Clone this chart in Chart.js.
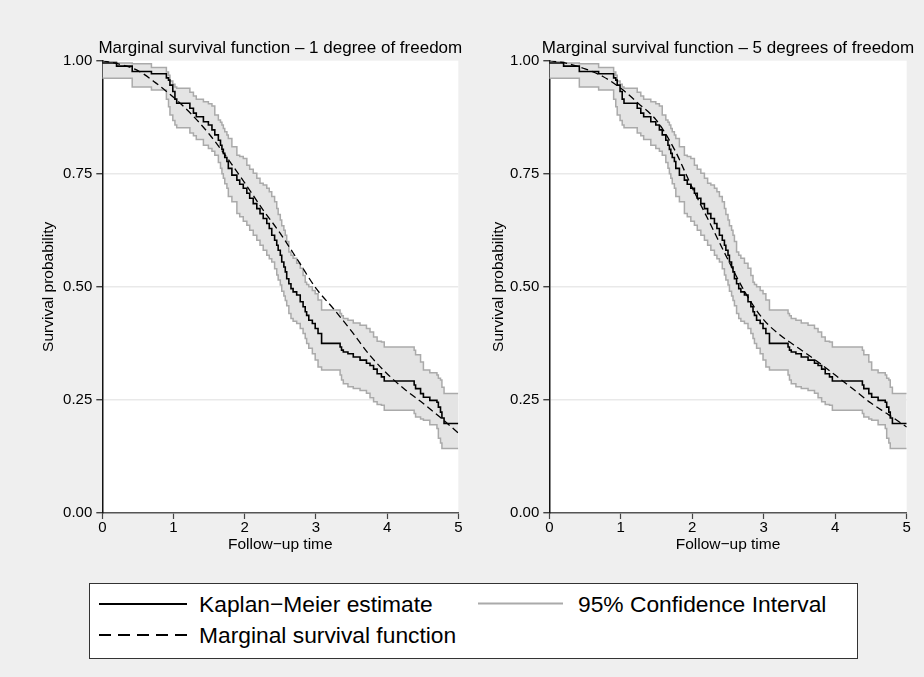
<!DOCTYPE html>
<html>
<head>
<meta charset="utf-8">
<script src="https://cdn.jsdelivr.net/npm/chart.js@4.4.0/dist/chart.umd.min.js"></script>
<style>
  html, body { margin: 0; padding: 0; }
  body { width: 924px; height: 677px; background: #efefef; position: relative; overflow: hidden;
         font-family: "Liberation Sans", Arial, sans-serif; }
  canvas { position: absolute; top: 0; }
  #left { left: 0; }
  #right { left: 470px; }
  .legend { position: absolute; left: 89px; top: 583px; width: 767px; height: 74px;
            background: #fff; border: 1px solid #333; }
  .legend svg { position: absolute; left: 0; top: 0; }
  .legend span { position: absolute; font-size: 22.8px; line-height: 22.8px; color: #000; white-space: nowrap; }
</style>
</head>
<body>
<canvas id="left" width="470" height="556"></canvas>
<canvas id="right" width="454" height="556"></canvas>

<div class="legend">
  <svg width="767" height="74">
    <line x1="9" y1="20" x2="97" y2="20" stroke="#000" stroke-width="2"/>
    <line x1="388" y1="19.5" x2="473" y2="19.5" stroke="#aaa" stroke-width="2"/>
    <line x1="9" y1="51" x2="97" y2="51" stroke="#000" stroke-width="2" stroke-dasharray="12,7"/>
  </svg>
  <span style="left:109px; top:9px">Kaplan−Meier estimate</span>
  <span style="left:488px; top:9px">95% Confidence Interval</span>
  <span style="left:109px; top:40px">Marginal survival function</span>
</div>

<script>
// Kaplan-Meier estimate with 95% CI (same data in both panels)
const eventTime = [0, 0.20, 0.42, 0.69, 0.90, 0.93, 0.95, 0.99, 1.02, 1.045, 1.23, 1.28, 1.32, 1.42, 1.49, 1.54, 1.58, 1.63, 1.66, 1.68,
  1.70, 1.72, 1.75, 1.77, 1.82, 1.89, 1.93, 1.98, 2.03, 2.07, 2.12, 2.17, 2.215, 2.26, 2.31, 2.345, 2.38, 2.42, 2.45, 2.47,
  2.50, 2.52, 2.55, 2.57, 2.59, 2.62, 2.65, 2.68, 2.73, 2.78, 2.82, 2.85, 2.87, 2.90, 2.95, 2.99, 3.03, 3.08, 3.34, 3.36,
  3.385, 3.45, 3.525, 3.62, 3.71, 3.76, 3.81, 3.86, 3.92, 3.96, 4.38, 4.40, 4.47, 4.51, 4.60, 4.70, 4.72, 4.75, 4.77, 4.80,
  4.84, 5.00];
const kmSurv = [1.000, 0.995, 0.988, 0.976, 0.971, 0.962, 0.957, 0.946, 0.932, 0.915, 0.906, 0.895, 0.884, 0.876, 0.865, 0.858, 0.847, 0.836, 0.824, 0.813,
  0.804, 0.795, 0.786, 0.777, 0.762, 0.747, 0.736, 0.727, 0.718, 0.707, 0.696, 0.684, 0.673, 0.662, 0.651, 0.640, 0.629, 0.614, 0.603, 0.592,
  0.581, 0.570, 0.555, 0.544, 0.533, 0.518, 0.507, 0.496, 0.489, 0.482, 0.467, 0.456, 0.445, 0.437, 0.426, 0.419, 0.408, 0.397, 0.375, 0.367,
  0.360, 0.356, 0.352, 0.345, 0.338, 0.331, 0.326, 0.318, 0.308, 0.301, 0.292, 0.283, 0.275, 0.264, 0.256, 0.249, 0.245, 0.234, 0.223, 0.210,
  0.198, 0.198];
const ciUpper = [1.000, 0.998, 0.995, 0.993, 0.985, 0.975, 0.968, 0.955, 0.948, 0.942, 0.939, 0.930, 0.922, 0.915, 0.909, 0.905, 0.900, 0.880, 0.869, 0.864,
  0.858, 0.850, 0.843, 0.836, 0.828, 0.810, 0.791, 0.788, 0.784, 0.769, 0.760, 0.751, 0.740, 0.729, 0.725, 0.718, 0.710, 0.700, 0.688, 0.673,
  0.660, 0.648, 0.635, 0.625, 0.614, 0.600, 0.577, 0.570, 0.563, 0.552, 0.541, 0.525, 0.510, 0.505, 0.500, 0.492, 0.485, 0.471, 0.449, 0.441,
  0.436, 0.430, 0.426, 0.420, 0.415, 0.408, 0.400, 0.389, 0.380, 0.378, 0.367, 0.360, 0.350, 0.334, 0.316, 0.310, 0.305, 0.298, 0.294, 0.278,
  0.264, 0.264];
const ciLower = [0.961, 0.961, 0.961, 0.942, 0.935, 0.915, 0.898, 0.880, 0.868, 0.858, 0.852, 0.840, 0.834, 0.826, 0.813, 0.806, 0.800, 0.791, 0.775, 0.762,
  0.750, 0.740, 0.728, 0.718, 0.700, 0.688, 0.662, 0.655, 0.645, 0.636, 0.625, 0.614, 0.603, 0.592, 0.581, 0.570, 0.562, 0.555, 0.540, 0.526,
  0.515, 0.504, 0.490, 0.480, 0.470, 0.458, 0.441, 0.430, 0.424, 0.419, 0.408, 0.397, 0.386, 0.375, 0.364, 0.352, 0.338, 0.323, 0.316, 0.305,
  0.294, 0.286, 0.279, 0.275, 0.271, 0.265, 0.255, 0.246, 0.240, 0.238, 0.227, 0.220, 0.2125, 0.208, 0.205, 0.195, 0.187, 0.165, 0.155, 0.1425,
  0.1425, 0.1425];

// marginal survival functions
const msfTime = [0, 0.25, 0.5, 0.75, 1, 1.25, 1.5, 1.75, 2, 2.25, 2.5, 2.75, 3, 3.25, 3.5, 3.75, 4, 4.25, 4.5, 4.75, 5];
const msfDf1 = [1.000, 0.992, 0.978, 0.951, 0.919, 0.882, 0.838, 0.786, 0.730, 0.672, 0.618, 0.558, 0.497, 0.451, 0.402, 0.350, 0.308, 0.273, 0.243, 0.211, 0.177];
const msfDf5 = [1.000, 0.994, 0.982, 0.965, 0.939, 0.905, 0.868, 0.804, 0.719, 0.640, 0.560, 0.485, 0.427, 0.391, 0.363, 0.335, 0.305, 0.274, 0.243, 0.217, 0.190];

const yTicks = [0, 0.25, 0.5, 0.75, 1];
const xTicks = [0, 1, 2, 3, 4, 5];

const FONT = '"Liberation Sans", Arial, sans-serif';
const pts = (xs, ys) => xs.map((x, i) => ({ x, y: ys[i] }));

const plotBg = {
  id: 'plotBg',
  beforeDraw(chart) {
    const { ctx, chartArea: a } = chart;
    ctx.save();
    ctx.fillStyle = '#fff';
    ctx.fillRect(a.left, a.top, a.right - a.left, a.bottom - a.top);
    ctx.restore();
  }
};

const panelTitle = {
  id: 'panelTitle',
  afterDraw(chart, args, opts) {
    const { ctx, chartArea: a } = chart;
    ctx.save();
    ctx.font = '17px ' + FONT;
    ctx.fillStyle = '#000';
    ctx.textAlign = 'center';
    ctx.textBaseline = 'alphabetic';
    ctx.fillText(opts.text, (a.left + a.right) / 2, opts.baseline);
    ctx.restore();
  }
};

function makePanel(id, title, msf, yWidth, padRight, yTitlePad) {
  return new Chart(document.getElementById(id), {
    type: 'line',
    data: {
      datasets: [
        { label: 'Kaplan−Meier estimate', data: pts(eventTime, kmSurv), stepped: 'after',
          borderColor: '#000', borderWidth: 1.6, pointRadius: 0, fill: false },
        { label: 'Marginal survival function', data: pts(msfTime, msf), cubicInterpolationMode: 'monotone',
          borderColor: '#000', borderWidth: 1.3, borderDash: [7, 4], pointRadius: 0, fill: false },
        { label: '95% Confidence Interval', data: pts(eventTime, ciUpper), stepped: 'after',
          borderColor: '#aaa', borderWidth: 1.5, pointRadius: 0, fill: false },
        { label: 'lower', data: pts(eventTime, ciLower), stepped: 'after',
          borderColor: '#aaa', borderWidth: 1.5, pointRadius: 0, fill: '-1', backgroundColor: '#e4e4e4' },
      ],
    },
    options: {
      responsive: false, animation: false, devicePixelRatio: 1,
      layout: { padding: { left: 0, right: padRight, top: 60.7, bottom: 1 } },
      plugins: {
        legend: { display: false }, tooltip: { enabled: false },
        panelTitle: { text: title, baseline: 53 },
      },
      scales: {
        x: {
          type: 'linear', min: 0, max: 5,
          afterBuildTicks: s => { s.ticks = xTicks.map(v => ({ value: v })); },
          afterFit: s => { s.height = 42; s.paddingLeft = 0; s.paddingRight = 0; },
          ticks: { color: '#000', font: { family: FONT, size: 15 }, padding: 0, maxRotation: 0, autoSkip: false },
          grid: { drawOnChartArea: false, drawTicks: true, tickLength: 6, tickColor: '#444', tickWidth: 1.2 },
          border: { display: true, color: '#555', width: 1.6 },
          title: { display: true, text: 'Follow−up time', color: '#000', font: { family: FONT, size: 15.5 },
                   padding: { top: 0, bottom: 1 } },
        },
        y: {
          type: 'linear', min: 0, max: 1,
          afterBuildTicks: s => { s.ticks = yTicks.map(v => ({ value: v })); },
          afterFit: s => { s.width = yWidth; s.paddingTop = 0; s.paddingBottom = 0; },
          ticks: { color: '#000', font: { family: FONT, size: 15 }, padding: 4, callback: v => v.toFixed(2), autoSkip: false },
          grid: {
            color: c => (c.tick && c.tick.value > 0 && c.tick.value < 1) ? '#e9e9e9' : 'rgba(0,0,0,0)',
            lineWidth: 1.5, drawTicks: true, tickLength: 6, tickColor: '#222', tickWidth: 1.2,
          },
          border: { display: true, color: '#111', width: 1.5 },
          title: { display: true, text: 'Survival probability', color: '#000', font: { family: FONT, size: 15.5 },
                   padding: { top: yTitlePad, bottom: 0 } },
        },
      },
    },
    plugins: [plotBg, panelTitle],
  });
}

makePanel('left', 'Marginal survival function – 1 degree of freedom', msfDf1, 102.3, 11.7, 39.7);
makePanel('right', 'Marginal survival function – 5 degrees of freedom', msfDf5, 79.3, 17.3, 19.7);
</script>
</body>
</html>
